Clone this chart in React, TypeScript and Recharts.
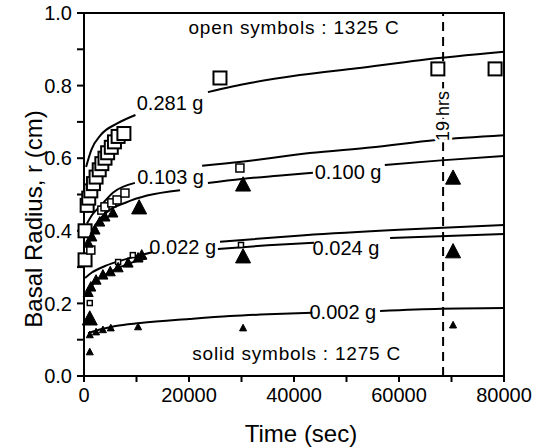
import React from 'react';
import * as R from 'recharts';
import {
  ComposedChart, Line, Scatter, XAxis, YAxis, ReferenceLine, ReferenceDot, Customized,
} from 'recharts';

// ---------- data (time in s, basal radius in cm) ----------
const curve281a = [[400, 0.576], [1400, 0.623], [3200, 0.664], [6500, 0.697], [9800, 0.719]];
const curve281b = [[23600, 0.782], [31600, 0.807], [41100, 0.829], [52000, 0.848], [64000, 0.87], [80000, 0.893]];
const curve103a = [[570, 0.42], [1600, 0.445], [3000, 0.466], [5500, 0.505], [9700, 0.532]];
const curve103b = [[22500, 0.579], [30000, 0.59], [43000, 0.614], [55000, 0.63], [67000, 0.65], [80000, 0.663]];
const curve100a = [[600, 0.37], [1700, 0.405], [4400, 0.452], [8000, 0.478], [12000, 0.497], [18300, 0.512]];
const curve100b = [[23600, 0.532], [30000, 0.543], [38000, 0.553], [43600, 0.56]];
const curve100c = [[57300, 0.581], [68000, 0.594], [80000, 0.606]];
const curve022a = [[200, 0.27], [1500, 0.285], [4000, 0.303], [8000, 0.322], [13000, 0.341]];
const curve022b = [[25900, 0.37], [42000, 0.388], [60000, 0.403], [80000, 0.416]];
const curve024a = [[800, 0.235], [2300, 0.262], [5000, 0.287], [8400, 0.309], [12000, 0.324]];
const curve024b = [[25500, 0.35], [35000, 0.36], [43800, 0.367]];
const curve024c = [[58300, 0.38], [80000, 0.391]];
const curve002a = [[760, 0.118], [3000, 0.128], [6000, 0.138], [10700, 0.146], [20000, 0.157], [27800, 0.165], [35000, 0.17], [43500, 0.174]];
const curve002b = [[56400, 0.179], [68000, 0.185], [80000, 0.187]];

const squaresLarge = [[200, 0.32], [200, 0.4], [600, 0.47], [900, 0.49], [1300, 0.51], [1800, 0.53], [2300, 0.548], [2900, 0.568], [3400, 0.585], [4000, 0.6], [4500, 0.615], [5200, 0.63], [5800, 0.645], [6500, 0.66], [7600, 0.668], [25900, 0.821], [67400, 0.846], [78300, 0.846]];
const squaresMedium = [[1300, 0.347], [3400, 0.457], [4000, 0.466], [5300, 0.477], [6300, 0.485], [7800, 0.504], [29700, 0.573]];
const squaresSmall = [[1100, 0.201], [6500, 0.314], [9300, 0.333], [29900, 0.361]];
const trianglesLarge = [[10500, 0.463], [30300, 0.526], [70300, 0.545], [1100, 0.157], [30300, 0.328], [70300, 0.342]];
const trianglesMedium = [[800, 0.366], [1500, 0.383], [2100, 0.402], [3000, 0.424], [4000, 0.438], [5500, 0.449], [800, 0.23], [1300, 0.245], [2300, 0.264], [3600, 0.278], [5000, 0.287], [6500, 0.298], [8400, 0.311], [10300, 0.325], [11000, 0.333]];
const trianglesSmall = [[1100, 0.066], [1100, 0.113], [2300, 0.121], [3600, 0.127], [5100, 0.132], [10300, 0.135], [30300, 0.132], [70300, 0.14]];

const curveLabels = [
  { x: 16400, y: 0.752, text: '0.281 g' },
  { x: 16500, y: 0.548, text: '0.103 g' },
  { x: 50300, y: 0.562, text: '0.100 g' },
  { x: 18800, y: 0.355, text: '0.022 g' },
  { x: 49900, y: 0.353, text: '0.024 g' },
  { x: 49300, y: 0.176, text: '0.002 g' },
];
const noteLabels = [
  { x: 40000, y: 0.959, text: 'open symbols : 1325 C' },
  { x: 40500, y: 0.063, text: 'solid symbols : 1275 C' },
];
const hoursMark = 68400;
const hoursLabel = { x: 68400, y: 0.716, text: '19 hrs' };

const xTicks = [0, 10000, 20000, 30000, 40000, 50000, 60000, 70000, 80000];
const yTicks = [0, 0.1, 0.2, 0.3, 0.4, 0.5, 0.6, 0.7, 0.8, 0.9, 1.0];

const pts = (a: number[][]) => a.map(([x, y]) => ({ x, y }));

const FONT = '"Liberation Sans", Arial, sans-serif';
const MARGIN = { top: 13, right: 30, bottom: 41, left: 0 };
const CHART_W = 534;
const CHART_H = 447;
const X_AXIS_H = 30;
const Y_AXIS_W = 84;

const usePlotAreaSafe: () => any = (R as any).usePlotArea || (() => null);

const TextAt = (props: any) => {
  const { viewBox, text, size = 18, rot = 0, halo = false, spacing = 0 } = props;
  if (!viewBox) return null;
  const cx = viewBox.x + (viewBox.width || 0) / 2;
  const cy = viewBox.y + (viewBox.height || 0) / 2;
  return (
    <text
      x={cx}
      y={cy}
      textAnchor="middle"
      dominantBaseline="central"
      fontSize={size}
      fontFamily={FONT}
      letterSpacing={spacing}
      fill="#000"
      stroke={halo ? '#fff' : 'none'}
      strokeWidth={halo ? 6 : 0}
      paintOrder="stroke"
      transform={rot ? `rotate(${rot} ${cx} ${cy})` : undefined}
    >
      {text}
    </text>
  );
};

const squareShape = (s: number, sw: number) => (p: any) => (
  <rect x={p.cx - s / 2} y={p.cy - s / 2} width={s} height={s} fill="#fff" stroke="#000" strokeWidth={sw} />
);
const triShape = (s: number) => (p: any) => (
  <polygon
    points={`${p.cx},${p.cy - s * 0.55} ${p.cx - s / 2},${p.cy + s * 0.4} ${p.cx + s / 2},${p.cy + s * 0.4}`}
    fill="#000"
    stroke="#000"
    strokeWidth={1}
  />
);

// Frame (top + right edges) and axis titles
const Decorations = () => {
  const pa = usePlotAreaSafe();
  const left = pa && typeof pa.x === 'number' ? pa.x : MARGIN.left + Y_AXIS_W;
  const top = pa && typeof pa.y === 'number' ? pa.y : MARGIN.top;
  const width = pa && typeof pa.width === 'number' ? pa.width : CHART_W - MARGIN.right - left;
  const height = pa && typeof pa.height === 'number' ? pa.height : CHART_H - MARGIN.bottom - X_AXIS_H - top;
  const right = left + width;
  const bottom = top + height;
  return (
    <g fontFamily={FONT} fill="#000">
      <path d={`M${left},${top}H${right}V${bottom}`} fill="none" stroke="#000" strokeWidth={2} />
      <text x={301} y={433} textAnchor="middle" dominantBaseline="central" fontSize={24}>Time (sec)</text>
      <text x={33} y={219} textAnchor="middle" dominantBaseline="central" fontSize={24} transform="rotate(-90 33 219)">
        Basal Radius, r (cm)
      </text>
    </g>
  );
};

const curves = [curve281a, curve281b, curve103a, curve103b, curve100a, curve100b, curve100c, curve022a, curve022b, curve024a, curve024b, curve024c, curve002a, curve002b];

export default function App() {
  return (
    <div style={{ position: 'absolute', left: 0, top: 0, fontFamily: FONT }}>
      <ComposedChart width={CHART_W} height={CHART_H} margin={MARGIN}>
        <XAxis
          type="number"
          dataKey="x"
          domain={[0, 80000]}
          ticks={xTicks}
          tickFormatter={(v: number) => (v % 20000 === 0 ? String(v) : '')}
          height={X_AXIS_H}
          stroke="#000"
          strokeWidth={2}
          tickSize={6}
          tickMargin={6}
          tick={{ fill: '#000', fontSize: 20, fontFamily: FONT }}
        />
        <YAxis
          type="number"
          dataKey="y"
          domain={[0, 1]}
          ticks={yTicks}
          tickFormatter={(v: number) => (Math.round(v * 10) % 2 === 0 ? v.toFixed(1) : '')}
          width={Y_AXIS_W}
          stroke="#000"
          strokeWidth={2}
          tickSize={7}
          tickMargin={5}
          tick={{ fill: '#000', fontSize: 20, fontFamily: FONT }}
        />
        <ReferenceLine x={hoursMark} stroke="#000" strokeWidth={2} strokeDasharray="9 6" />
        {curves.map((c, i) => (
          <Line
            key={i}
            data={pts(c)}
            dataKey="y"
            type="monotone"
            stroke="#000"
            strokeWidth={2}
            dot={false}
            activeDot={false}
            isAnimationActive={false}
          />
        ))}
        <Scatter data={pts(squaresLarge)} dataKey="y" shape={squareShape(13, 2)} isAnimationActive={false} />
        <Scatter data={pts(squaresMedium)} dataKey="y" shape={squareShape(8, 1.5)} isAnimationActive={false} />
        <Scatter data={pts(squaresSmall)} dataKey="y" shape={squareShape(5, 1.5)} isAnimationActive={false} />
        <Scatter data={pts(trianglesLarge)} dataKey="y" shape={triShape(15)} isAnimationActive={false} />
        <Scatter data={pts(trianglesMedium)} dataKey="y" shape={triShape(10)} isAnimationActive={false} />
        <Scatter data={pts(trianglesSmall)} dataKey="y" shape={triShape(7)} isAnimationActive={false} />
        {curveLabels.map((l) => (
          <ReferenceDot key={l.text} x={l.x} y={l.y} r={1} fill="none" stroke="none" label={<TextAt text={l.text} size={20} />} />
        ))}
        {noteLabels.map((l) => (
          <ReferenceDot key={l.text} x={l.x} y={l.y} r={1} fill="none" stroke="none" label={<TextAt text={l.text} size={19} spacing={0.8} />} />
        ))}
        <ReferenceDot
          x={hoursLabel.x}
          y={hoursLabel.y}
          r={1}
          fill="none"
          stroke="none"
          label={<TextAt text={hoursLabel.text} size={18} rot={-90} halo />}
        />
        <Customized component={Decorations} />
      </ComposedChart>
    </div>
  );
}
